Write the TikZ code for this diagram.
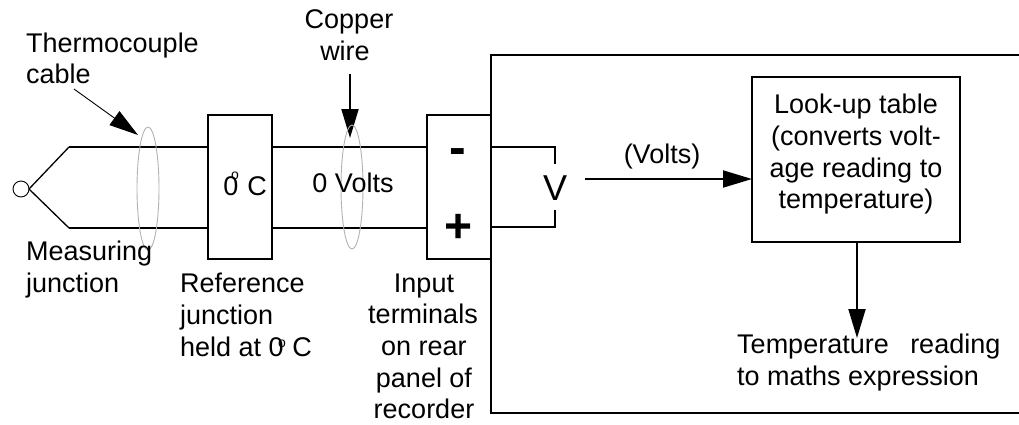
\documentclass[tikz,border=0pt]{standalone}
\usepackage{fontspec}
\setmainfont{Liberation Sans}
\usetikzlibrary{arrows.meta,shapes.geometric}
\tikzset{
 wire/.style={line width=1.9pt,black},
 lbl/.style={inner sep=0pt,font=\fontsize{27}{32}\selectfont,anchor=base},
 lblL/.style={lbl,anchor=base west},
 tag/.style={line width=1.9pt,-{Triangle[length=29pt,width=17pt]}},
 ring/.style={draw=black!30,line width=0.9pt},
 boxn/.style={draw,line width=1.9pt,inner sep=0pt,outer sep=0pt,anchor=north west}
}
\begin{document}
\begin{tikzpicture}[x=1pt,y=-1pt]
\useasboundingbox (0,0) rectangle (1019,424);
\node[boxn,minimum width=64pt,minimum height=144pt] (ref) at (208,115) {};
\node[boxn,minimum width=64pt,minimum height=144pt] (term) at (427,115) {};
\node[boxn,minimum width=208pt,minimum height=165pt] (look) at (752,77) {};
\node[draw,circle,line width=0.9pt,minimum size=16pt,inner sep=0pt,outer sep=0pt] (mj) at (21,189) {};
\coordinate (jt) at (69,147);
\coordinate (jb) at (69,228);
\draw[wire,line width=1.3pt] (mj.east) -- (jt);
\draw[wire,line width=1.3pt] (mj.east) -- (jb);
\draw[wire] (jt) -- (ref.west |- jt);
\draw[wire] (jb) -- (ref.west |- jb);
\draw[wire] (ref.east |- jt) -- (term.west |- jt);
\draw[wire] (ref.east |- jb) -- (term.west |- jb);
\coordinate (ot) at (1019,55);
\coordinate (ob) at (1019,413);
\draw[wire] (ot) -- (491,55) -- (491,413) -- (ob);
\coordinate (vt) at (555,147);
\coordinate (vb) at (555,227);
\coordinate (vte) at (555,164);
\coordinate (vbe) at (555,210);
\draw[wire] (term.east |- vt) -- (vt) -- (vte);
\draw[wire] (term.east |- vb) -- (vb) -- (vbe);
\node[lbl,font=\fontsize{36}{36}\selectfont] (v) at (555,200) {V};
\coordinate (vs) at (585,179);
\draw[tag] (vs) -- (vs -| look.west);
\coordinate (ls) at (857,242);
\coordinate (le) at (857,338);
\draw[tag] (ls) -- (le);
\coordinate (tc) at (74,89);
\coordinate (tce) at (138,135);
\draw[line width=0.9pt,-{Triangle[length=29pt,width=17pt]}] (tc) -- (tce);
\coordinate (cw) at (350,74);
\coordinate (cwe) at (350,138);
\draw[tag] (cw) -- (cwe);
\node[ring,ellipse,minimum width=22pt,minimum height=123pt,inner sep=0pt] (e1) at (148,188.5) {};
\node[ring,ellipse,minimum width=22pt,minimum height=124pt,inner sep=0pt] (e2) at (352,187) {};
\node[lblL] (t1) at (26,52) {Thermocouple};
\node[lblL] (t2) at (26,83) {cable};
\node[lbl] (t3) at (349,28) {Copper};
\node[lbl] (t4) at (345,60) {wire};
\node[lblL] (t5) at (26,260) {Measuring};
\node[lblL] (t6) at (26,292) {junction};
\node[lbl] (t7) at (231,195) {0};
\node[lbl,font=\fontsize{14}{14}\selectfont] (t7b) at (235,179) {o};
\node[lbl] (t7c) at (257,195) {C};
\node[lbl] (t8) at (353,192) {0 Volts};
\node[lblL] (t9) at (180,292) {Reference};
\node[lblL] (t10) at (180,324) {junction};
\node[lblL] (t11) at (180,356) {held at 0};
\node[lbl,font=\fontsize{14}{14}\selectfont] (t11b) at (282,347) {o};
\node[lbl] (t11c) at (302,356) {C};
\node[lbl] (t12) at (424,292) {Input};
\node[lbl] (t13) at (423,323) {terminals};
\node[lbl] (t14) at (424,355) {on rear};
\node[lbl] (t15) at (424,387) {panel of};
\node[lbl] (t16) at (424,418) {recorder};
\node[lbl,font=\bfseries\fontsize{50}{50}\selectfont] (minus) at (458,164) {-};
\node[lbl,font=\bfseries\fontsize{48}{48}\selectfont] (plus) at (459,242) {+};
\node[lbl] (volts) at (662,163) {(Volts)};
\node[lbl] (l1) at (856,113) {Look-up table};
\node[lbl] (l2) at (856,145) {(converts volt-};
\node[lbl] (l3) at (856,177) {age reading to};
\node[lbl] (l4) at (856,208) {temperature)};
\node[lblL] (r1) at (737,353) {Temperature\hspace{14pt} reading};
\node[lblL] (r2) at (737,385) {to maths expression};
\end{tikzpicture}
\end{document}
